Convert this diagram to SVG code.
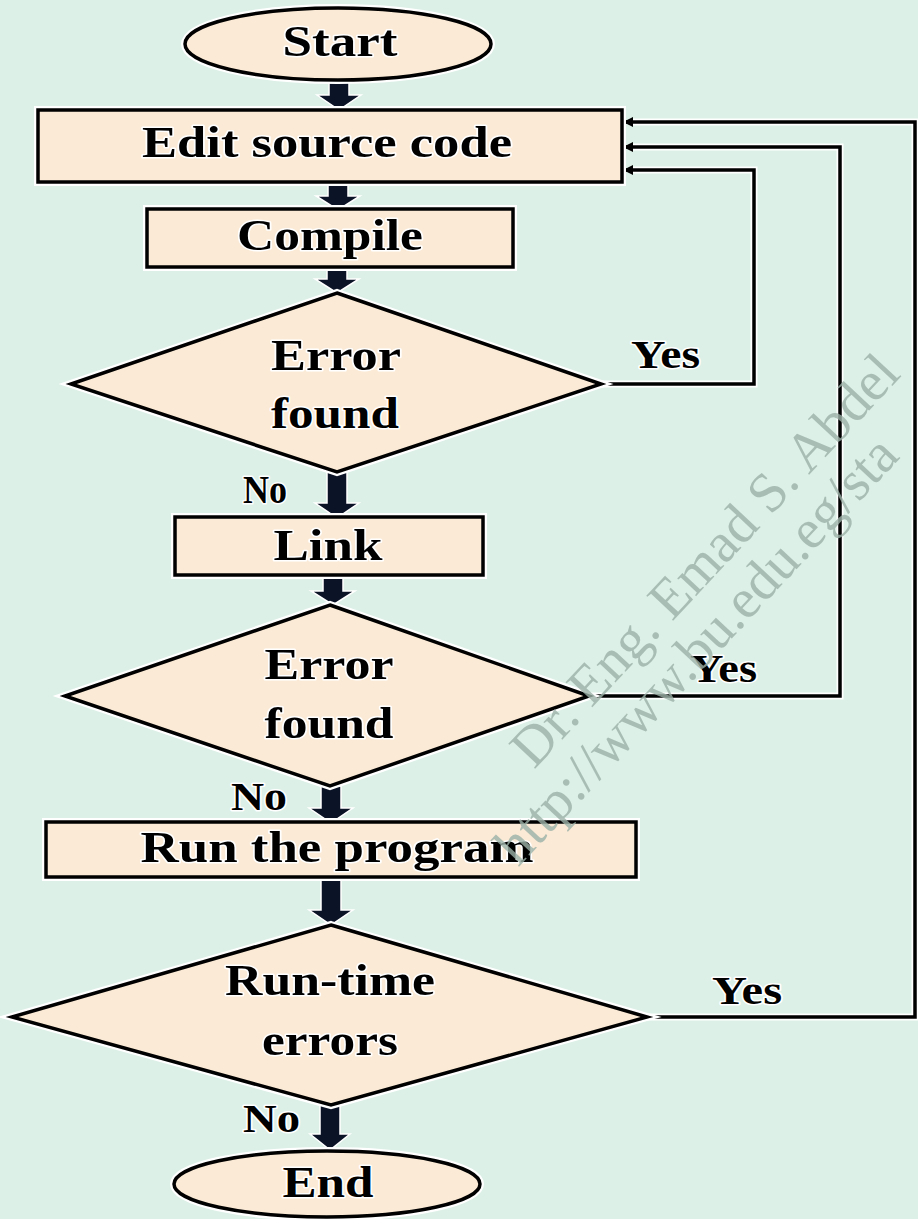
<svg xmlns="http://www.w3.org/2000/svg" width="918" height="1219" viewBox="0 0 918 1219">
<style>
.halo{fill:none;stroke:#ffffff;stroke-width:8;stroke-linejoin:miter}
.shape{fill:#fbead5;stroke:#000;stroke-width:3.5}
.t{font-family:"Liberation Serif","Times New Roman",serif;font-weight:bold;font-size:45px;fill:#000;text-anchor:middle;stroke:#fff;stroke-width:3;paint-order:stroke;stroke-linejoin:round}
.lbl{font-family:"Liberation Serif","Times New Roman",serif;font-weight:bold;font-size:40px;fill:#000;stroke:#fff;stroke-width:3;paint-order:stroke;stroke-linejoin:round}
.fat{fill:#0b1326;stroke:#fff;stroke-width:1.5}
.lineh{fill:none;stroke:#fff;stroke-width:7}
.line{fill:none;stroke:#000;stroke-width:3.5}
.wm{font-family:"Liberation Serif","Times New Roman",serif;font-size:56px;fill:#9bb1a7;fill-opacity:0.8}
</style>
<defs>
<marker id="ah" viewBox="0 0 10 10" refX="9" refY="5" markerWidth="10" markerHeight="10" markerUnits="userSpaceOnUse" orient="auto">
<path d="M0,0 L10,5 L0,10 Z" fill="#000"/>
</marker>
</defs>
<rect x="0" y="0" width="918" height="1219" fill="#dcf0e7"/>

<g id="connectors">
<path class="fat" d="M329,80 H349 V95 H361 L339,110 L317,95 H329 Z"/>
<path class="fat" d="M328,182 H348 V196 H360 L338,210 L316,196 H328 Z"/>
<path class="fat" d="M327,267 H347 V279 H359 L337,293 L315,279 H327 Z"/>
<path class="fat" d="M327,472 H347 V503 H359 L337,518 L315,503 H327 Z"/>
<path class="fat" d="M323,576 H343 V591 H355 L333,605 L311,591 H323 Z"/>
<path class="fat" d="M321,786 H341 V808 H353 L331,823 L309,808 H321 Z"/>
<path class="fat" d="M321,878 H341 V910 H353 L331,925 L309,910 H321 Z"/>
<path class="fat" d="M320,1105 H340 V1134 H350 L330,1150 L310,1134 H320 Z"/>

<path class="lineh" d="M601,384 H754 V170 H630"/>
<path class="lineh" d="M589,696 H840 V147 H630"/>
<path class="lineh" d="M647,1017 H915 V122 H630"/>
<path class="line" d="M601,384 H754 V170 H624" marker-end="url(#ah)"/>
<path class="line" d="M589,696 H840 V147 H624" marker-end="url(#ah)"/>
<path class="line" d="M647,1017 H915 V122 H624" marker-end="url(#ah)"/>

<text class="lbl" x="631" y="368" textLength="69" lengthAdjust="spacingAndGlyphs">Yes</text>
<text class="lbl" x="690" y="682" textLength="67" lengthAdjust="spacingAndGlyphs">Yes</text>
<text class="lbl" x="712" y="1004" textLength="70" lengthAdjust="spacingAndGlyphs">Yes</text>
<text class="lbl" x="243" y="503" textLength="44" lengthAdjust="spacingAndGlyphs">No</text>
<text class="lbl" x="231" y="810" textLength="56" lengthAdjust="spacingAndGlyphs">No</text>
<text class="lbl" x="243" y="1132" textLength="57" lengthAdjust="spacingAndGlyphs">No</text>
</g>

<g id="start">
<ellipse class="halo" cx="338" cy="44" rx="153" ry="36"/>
<ellipse class="shape" cx="338" cy="44" rx="153" ry="36"/>
<text class="t" x="340" y="56" textLength="115" lengthAdjust="spacingAndGlyphs">Start</text>
</g>

<g id="edit">
<rect class="halo" x="38" y="110" width="584" height="72"/>
<rect class="shape" x="38" y="110" width="584" height="72"/>
<text class="t" x="327" y="157" textLength="370" lengthAdjust="spacingAndGlyphs">Edit source code</text>
</g>

<g id="compile">
<rect class="halo" x="147" y="209" width="366" height="58"/>
<rect class="shape" x="147" y="209" width="366" height="58"/>
<text class="t" x="330" y="250" textLength="186" lengthAdjust="spacingAndGlyphs">Compile</text>
</g>

<g id="error1">
<polygon class="halo" points="337,293 601,384 337,472 71,384"/>
<polygon class="shape" points="337,293 601,384 337,472 71,384"/>
<text class="t" x="336" y="370" textLength="130" lengthAdjust="spacingAndGlyphs">Error</text>
<text class="t" x="335" y="428" textLength="128" lengthAdjust="spacingAndGlyphs">found</text>
</g>

<g id="link">
<rect class="halo" x="175" y="517" width="308" height="58"/>
<rect class="shape" x="175" y="517" width="308" height="58"/>
<text class="t" x="328" y="560" textLength="109" lengthAdjust="spacingAndGlyphs">Link</text>
</g>

<g id="error2">
<polygon class="halo" points="330,605 589,696 330,786 65,696"/>
<polygon class="shape" points="330,605 589,696 330,786 65,696"/>
<text class="t" x="329" y="679" textLength="129" lengthAdjust="spacingAndGlyphs">Error</text>
<text class="t" x="329" y="738" textLength="129" lengthAdjust="spacingAndGlyphs">found</text>
</g>

<g id="run">
<rect class="halo" x="46" y="822" width="590" height="55"/>
<rect class="shape" x="46" y="822" width="590" height="55"/>
<text class="t" x="337" y="862" textLength="393" lengthAdjust="spacingAndGlyphs">Run the program</text>
</g>

<g id="runtime">
<polygon class="halo" points="331,925 647,1017 331,1105 12,1017"/>
<polygon class="shape" points="331,925 647,1017 331,1105 12,1017"/>
<text class="t" x="330" y="995" textLength="210" lengthAdjust="spacingAndGlyphs">Run-time</text>
<text class="t" x="330" y="1055" textLength="136" lengthAdjust="spacingAndGlyphs">errors</text>
</g>

<g id="end">
<ellipse class="halo" cx="327" cy="1184" rx="153" ry="33"/>
<ellipse class="shape" cx="327" cy="1184" rx="153" ry="33"/>
<text class="t" x="328" y="1197" textLength="91" lengthAdjust="spacingAndGlyphs">End</text>
</g>

<g id="watermark" transform="translate(534,770) rotate(-47)">
<text class="wm" x="0" y="0">Dr. Eng. Emad S. Abdel</text>
<text class="wm" x="-82" y="55">http://www.bu.edu.eg/sta</text>
</g>
</svg>
